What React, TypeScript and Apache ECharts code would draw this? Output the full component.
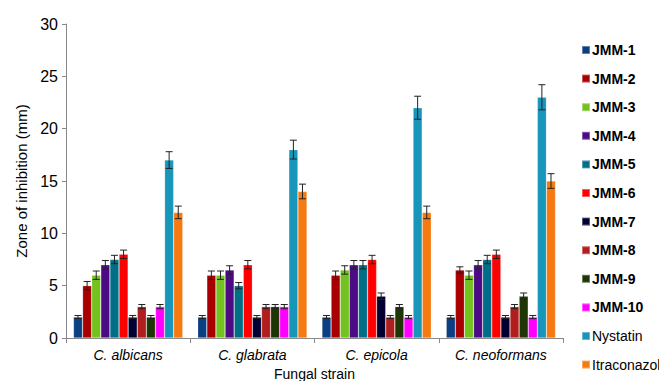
import React, { useEffect, useRef } from "react";
import * as echarts from "echarts";

const categories = ["C. albicans", "C. glabrata", "C. epicola", "C. neoformans"];
const seriesNames = ["JMM-1", "JMM-2", "JMM-3", "JMM-4", "JMM-5", "JMM-6", "JMM-7", "JMM-8", "JMM-9", "JMM-10", "Nystatin", "Itraconazol"];
const colors = ["#0C3F82", "#A80000", "#74C21F", "#4C0A85", "#006E86", "#FF0000", "#000033", "#B01E1E", "#1E3506", "#FF00FF", "#1796BA", "#F67A12"];
// values per series across the 4 strains
const values = [
  [2, 2, 2, 2],
  [5, 6, 6, 6.5],
  [6, 6, 6.5, 6],
  [7, 6.5, 7, 7],
  [7.5, 5, 7, 7.5],
  [8, 7, 7.5, 8],
  [2, 2, 4, 2],
  [3, 3, 2, 3],
  [2, 3, 3, 4],
  [3, 3, 2, 2],
  [17, 18, 22, 23],
  [12, 14, 12, 15],
];
const errors = [
  [0.15, 0.15, 0.15, 0.15],
  [0.4, 0.4, 0.4, 0.3],
  [0.4, 0.4, 0.4, 0.4],
  [0.4, 0.4, 0.4, 0.4],
  [0.4, 0.3, 0.4, 0.4],
  [0.4, 0.4, 0.4, 0.4],
  [0.15, 0.15, 0.3, 0.15],
  [0.2, 0.2, 0.15, 0.2],
  [0.15, 0.2, 0.2, 0.3],
  [0.2, 0.2, 0.15, 0.15],
  [0.8, 0.9, 1.1, 1.2],
  [0.6, 0.7, 0.6, 0.7],
];
const yTicks = { min: 0, max: 30, interval: 5 };

const CAT_GAP = 0.12;

export default function App() {
  const ref = useRef<HTMLDivElement>(null);
  useEffect(() => {
    if (!ref.current) return;
    const chart = echarts.init(ref.current, null, { renderer: "svg" });
    const N = seriesNames.length;
    const errData: number[][] = [];
    values.forEach((arr, s) => arr.forEach((v, c) => errData.push([c, s, v, errors[s][c]])));
    const font = "Liberation Sans, Arial, sans-serif";
    const bars = seriesNames.map((name, i) => ({
      name,
      type: "bar",
      data: values[i],
      barGap: "0%",
      barCategoryGap: CAT_GAP * 100 + "%",
      itemStyle: { color: colors[i], borderColor: "rgba(255,255,255,0.35)", borderWidth: 0.6 },
      z: 2,
    }));
    const errSeries = {
      type: "custom",
      name: "err",
      data: errData,
      z: 5,
      silent: true,
      renderItem: (params: any, api: any) => {
        const c = api.value(0);
        const s = api.value(1);
        const v = api.value(2);
        const e = api.value(3);
        const band = api.size([1, 0])[0];
        const bw = (band * (1 - CAT_GAP)) / N;
        const p = api.coord([c, v]);
        const x = p[0] + (s - (N - 1) / 2) * bw;
        const top = api.coord([c, v + e])[1];
        const bot = api.coord([c, v - e])[1];
        const hw = 3.5;
        const style = { stroke: "#222", lineWidth: 1 };
        return {
          type: "group",
          children: [
            { type: "line", shape: { x1: x, y1: top, x2: x, y2: bot }, style },
            { type: "line", shape: { x1: x - hw, y1: top, x2: x + hw, y2: top }, style },
            { type: "line", shape: { x1: x - hw, y1: bot, x2: x + hw, y2: bot }, style },
          ],
        };
      },
    };
    chart.setOption({
      animation: false,
      grid: { left: 66, right: 96, top: 24, bottom: 43, containLabel: false, outerBoundsMode: "none" },
      legend: {
        orient: "vertical",
        left: 576,
        top: 38,
        itemWidth: 8,
        itemHeight: 8,
        itemGap: 14.6,
        icon: "rect",
        data: seriesNames,
        formatter: (n: string) => (n.startsWith("JMM") ? "{b|" + n + "}" : "{n|" + n + "}"),
        textStyle: {
          padding: [0, 0, 0, -3],
          rich: {
            b: { fontFamily: font, fontSize: 14, fontWeight: "bold", color: "#000", lineHeight: 16 },
            n: { fontFamily: font, fontSize: 14, color: "#000", lineHeight: 16 },
          },
        },
      },
      xAxis: {
        type: "category",
        data: categories,
        name: "Fungal strain",
        nameLocation: "middle",
        nameGap: 26,
        nameTextStyle: { fontFamily: font, fontSize: 14, color: "#000", lineHeight: 15 },
        axisLine: { lineStyle: { color: "#888" } },
        axisTick: { show: true, length: 5, lineStyle: { color: "#888" } },
        axisLabel: { fontFamily: font, fontSize: 14, fontStyle: "italic", color: "#000", margin: 10 },
      },
      yAxis: {
        type: "value",
        min: yTicks.min,
        max: yTicks.max,
        interval: yTicks.interval,
        name: "Zone of inhibition (mm)",
        nameLocation: "middle",
        nameGap: 36,
        nameTextStyle: { fontFamily: font, fontSize: 15, color: "#000" },
        axisLine: { show: true, lineStyle: { color: "#888" } },
        axisTick: { show: true, length: 4, lineStyle: { color: "#888" } },
        splitLine: { show: false },
        axisLabel: { fontFamily: font, fontSize: 16, color: "#000", margin: 8 },
      },
      series: [...bars, errSeries],
    });
    return () => chart.dispose();
  }, []);
  return <div ref={ref} style={{ width: 659, height: 381, position: "absolute", left: 0, top: 0, background: "#fff" }} />;
}
